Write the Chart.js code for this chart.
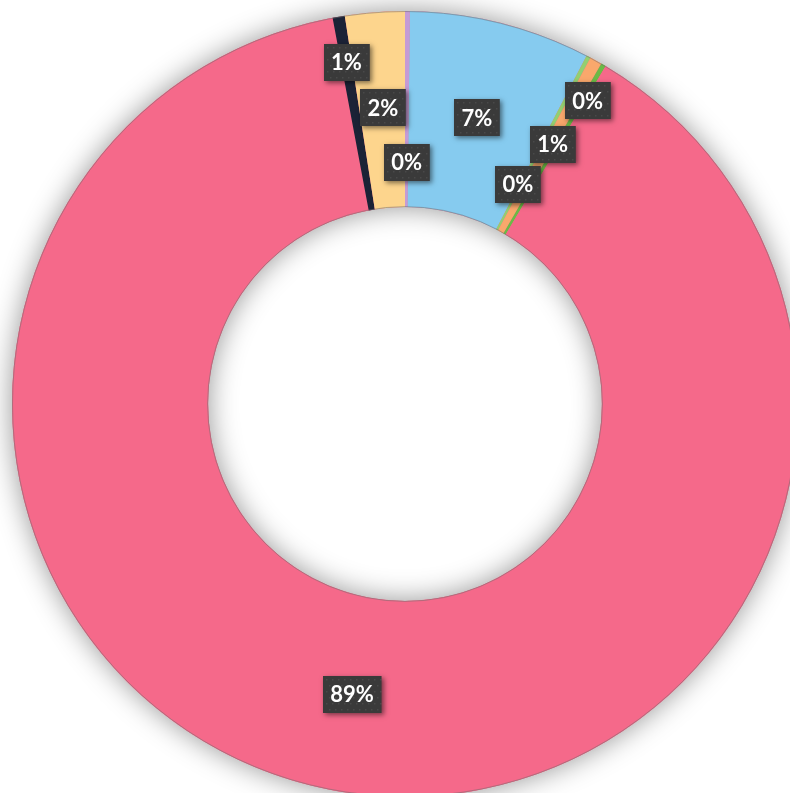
<!DOCTYPE html>
<html>
<head>
<meta charset="utf-8">
<style>
html,body{margin:0;padding:0;background:#ffffff;overflow:hidden}
#wrap{position:relative;width:790px;height:793px}
canvas{display:block}
</style>
</head>
<body>
<div id="wrap"><canvas id="c" width="790" height="793"></canvas></div>
<script src="https://cdn.jsdelivr.net/npm/chart.js@4/dist/chart.umd.min.js"></script>
<script>
// ---- data ----
const categories = ['Category 1','Category 2','Category 3','Category 4','Category 5','Category 6','Category 7','Category 8'];
const values = [0.2, 7.45, 0.18, 0.5, 0.2, 88.52, 0.5, 2.45];
const colors = ['#C59BD5','#86CBEF','#93CF70','#F9A86C','#6BBA46','#F5698A','#1B2236','#FDD58D'];
// label placement (style): radial fraction within ring, angular nudge in degrees
const labelRadial = [0.23, 0.5, 0.80, 0.52, 0.255, 0.5, 0.765, 0.51];
const labelNudge  = [0, 0, 3.2, 0.5, -3.15, 0.3, 0, 0.15];

const total = values.reduce((a,b)=>a+b,0);
const pctLabels = values.map(v => Math.round(v/total*100) + '%');

const ringShadow = {
  id: 'ringShadow',
  beforeDatasetsDraw(chart) {
    const meta = chart.getDatasetMeta(0);
    const a = meta.data[0];
    if (!a) return;
    const {x, y, innerRadius, outerRadius} = a.getProps(['x','y','innerRadius','outerRadius'], true);
    const ctx = chart.ctx;
    ctx.save();
    ctx.beginPath();
    ctx.arc(x, y, outerRadius, 0, Math.PI*2);
    ctx.arc(x, y, innerRadius, 0, Math.PI*2, true);
    ctx.closePath();
    ctx.shadowColor = 'rgba(0,0,0,0.42)';
    ctx.shadowBlur = 28;
    ctx.fillStyle = colors[5];
    ctx.fill('evenodd');
    ctx.restore();
  },
  afterDatasetsDraw(chart) {
    const meta = chart.getDatasetMeta(0);
    const a = meta.data[0];
    if (!a) return;
    const {x, y, innerRadius, outerRadius} = a.getProps(['x','y','innerRadius','outerRadius'], true);
    const ctx = chart.ctx;
    ctx.save();
    ctx.strokeStyle = 'rgba(110,110,110,0.5)';
    ctx.lineWidth = 1;
    ctx.beginPath(); ctx.arc(x, y, outerRadius-0.5, 0, Math.PI*2); ctx.stroke();
    ctx.beginPath(); ctx.arc(x, y, innerRadius+0.5, 0, Math.PI*2); ctx.stroke();
    ctx.restore();
  }
};

const boxLabels = {
  id: 'boxLabels',
  afterDraw(chart) {
    const meta = chart.getDatasetMeta(0);
    const ctx = chart.ctx;
    ctx.save();
    ctx.font = 'bold 22px Lato, "DejaVu Sans", sans-serif';
    ctx.textAlign = 'center';
    ctx.textBaseline = 'middle';
    meta.data.forEach((arc, i) => {
      const p = arc.getProps(['x','y','startAngle','endAngle','innerRadius','outerRadius'], true);
      const mid = (p.startAngle + p.endAngle)/2 + labelNudge[i]*Math.PI/180;
      const r = p.innerRadius + (p.outerRadius - p.innerRadius)*labelRadial[i];
      const cx = p.x + Math.cos(mid)*r;
      const cy = p.y + Math.sin(mid)*r;
      const txt = pctLabels[i];
      const w = ctx.measureText(txt).width + 15;
      const h = 37;
      const bx = Math.round(cx - w/2), by = Math.round(cy - h/2);
      ctx.save();
      ctx.shadowColor = 'rgba(0,0,0,0.5)';
      ctx.shadowBlur = 5;
      ctx.shadowOffsetX = 2;
      ctx.shadowOffsetY = 2;
      ctx.fillStyle = '#3a3a3a';
      ctx.fillRect(bx, by, w, h);
      ctx.restore();
      // subtle dotted texture
      ctx.fillStyle = 'rgba(255,255,255,0.08)';
      for (let yy = by + 3; yy < by + h - 1; yy += 6) {
        for (let xx = bx + 3 + ((yy - by) % 12 === 3 ? 0 : 3); xx < bx + w - 1; xx += 6) {
          ctx.fillRect(xx, yy, 1.5, 1.5);
        }
      }
      ctx.fillStyle = '#ffffff';
      ctx.fillText(txt, cx, cy + 1);
    });
    ctx.restore();
  }
};

new Chart(document.getElementById('c'), {
  type: 'doughnut',
  data: {
    labels: categories,
    datasets: [{
      data: values,
      backgroundColor: colors,
      borderWidth: 0,
      radius: 393,
      cutout: '50.1%',
      clip: false
    }]
  },
  options: {
    responsive: false,
    animation: false,
    layout: { padding: { left: 20, top: 15, right: 0, bottom: 0 } },
    plugins: { legend: { display: false }, tooltip: { enabled: false } }
  },
  plugins: [ringShadow, boxLabels]
});
</script>
</body>
</html>
